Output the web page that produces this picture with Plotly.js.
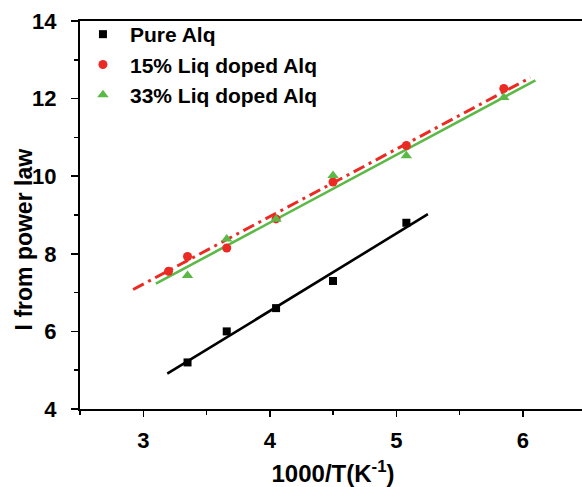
<!DOCTYPE html>
<html>
<head>
<meta charset="utf-8">
<script src="https://cdn.plot.ly/plotly-3.0.1.min.js"></script>
<style>
  html, body { margin: 0; padding: 0; overflow: hidden; background: #fff; }
  #chart { width: 590px; height: 487px; }
</style>
</head>
<body>
<div id="chart"></div>
<script>
// ---- data ----
const seriesNames = ['Pure Alq', '15% Liq doped Alq', '33% Liq doped Alq'];

const pureX = [3.35, 3.66, 4.05, 4.50, 5.08];
const pureY = [5.20, 6.00, 6.60, 7.30, 8.80];

const liq15X = [3.20, 3.35, 3.66, 4.05, 4.50, 5.08, 5.85];
const liq15Y = [7.55, 7.93, 8.15, 8.90, 9.85, 10.79, 12.26];

const liq33X = [3.35, 3.66, 4.05, 4.50, 5.08, 5.85];
const liq33Y = [7.44, 8.38, 8.89, 10.02, 10.53, 12.03];

// linear fit lines (end points)
const pureFitX = [3.19, 5.25];
const pureFitY = [4.91, 9.02];
const liq15FitX = [2.92, 6.06];
const liq15FitY = [7.08, 12.54];
const liq33FitX = [3.10, 6.10];
const liq33FitY = [7.23, 12.47];

const xTickVals = [3, 4, 5, 6];
const yTickVals = [4, 6, 8, 10, 12, 14];

const xTitle = '1000/T(K<sup>-1</sup>)';
const yTitle = 'I from power law';

const BLACK = '#000000';
const RED = '#ec2a24';
const GREEN = '#5cb947';
const FONT = 'Liberation Sans, Arial, Helvetica, sans-serif';

const traces = [
  {x: pureFitX, y: pureFitY, mode: 'lines', line: {color: BLACK, width: 2.6}, showlegend: false, hoverinfo: 'skip'},
  {x: liq33FitX, y: liq33FitY, mode: 'lines', line: {color: GREEN, width: 2.6}, showlegend: false, hoverinfo: 'skip'},
  {x: liq15FitX, y: liq15FitY, mode: 'lines', line: {color: RED, width: 3, dash: '12px,5px,3px,5px'}, showlegend: false, hoverinfo: 'skip'},
  {x: pureX, y: pureY, name: seriesNames[0], mode: 'markers', marker: {symbol: 'square', color: BLACK, size: 8}},
  {x: liq15X, y: liq15Y, name: seriesNames[1], mode: 'markers', marker: {symbol: 'circle', color: RED, size: 9}},
  {x: liq33X, y: liq33Y, name: seriesNames[2], mode: 'markers', marker: {symbol: 'triangle-up', color: GREEN, size: 10}}
];

const layout = {
  width: 590,
  height: 487,
  margin: {l: 80, r: 4, t: 21, b: 78},
  paper_bgcolor: '#ffffff',
  plot_bgcolor: '#ffffff',
  font: {family: FONT, color: '#000', size: 22, weight: 700},
  showlegend: true,
  legend: {
    x: -0.008, y: 1.018, xanchor: 'left', yanchor: 'top',
    bgcolor: 'rgba(0,0,0,0)',
    font: {family: FONT, size: 21, color: '#000', weight: 700},
    itemwidth: 44,
    tracegroupgap: 0
  },
  xaxis: {
    range: [2.5, 6.5],
    tickvals: xTickVals,
    ticks: 'outside', ticklen: 6, tickwidth: 1.5, tickcolor: '#000',
    minor: {dtick: 0.5, ticks: 'outside', ticklen: 4, tickwidth: 1.5, tickcolor: '#000', showgrid: false},
    showline: true, linecolor: '#000', linewidth: 2, mirror: true,
    showgrid: false, zeroline: false,
    tickfont: {family: FONT, size: 22, weight: 700},
    ticklabelstandoff: 5,
    title: {text: xTitle, font: {family: FONT, size: 24, weight: 700}, standoff: 13}
  },
  yaxis: {
    range: [4, 14],
    tickvals: yTickVals,
    ticks: 'outside', ticklen: 7, tickwidth: 1.5, tickcolor: '#000',
    minor: {dtick: 1, ticks: 'outside', ticklen: 4, tickwidth: 1.5, tickcolor: '#000', showgrid: false},
    showline: true, linecolor: '#000', linewidth: 2, mirror: true,
    showgrid: false, zeroline: false,
    tickfont: {family: FONT, size: 22, weight: 700},
    ticklabelstandoff: 10
  },
  annotations: [{
    text: yTitle,
    xref: 'paper', yref: 'paper',
    x: -0.11, y: 0.438,
    xanchor: 'center', yanchor: 'middle',
    textangle: -90,
    showarrow: false,
    font: {family: FONT, size: 23, color: '#000', weight: 700}
  }]
};

Plotly.newPlot('chart', traces, layout, {displayModeBar: false, staticPlot: true});
</script>
</body>
</html>
